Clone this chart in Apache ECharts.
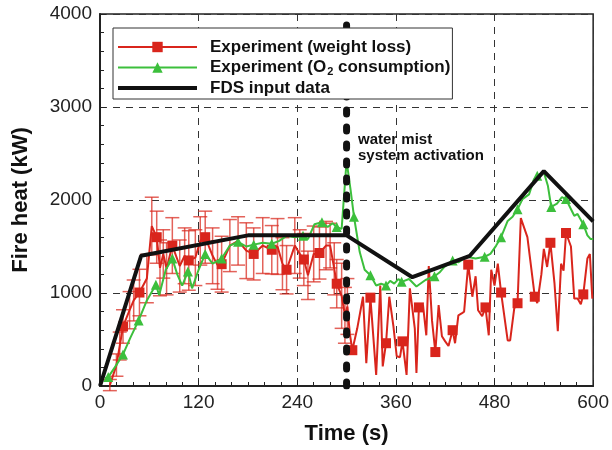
<!DOCTYPE html>
<html lang="en">

<head>
    <meta charset="UTF-8">
    <script type="text/javascript" src="https://cdn.jsdelivr.net/npm/echarts@6.0.0/dist/echarts.min.js"></script>
    <title>Fire heat</title>
    <style>
        html, body { margin: 0; padding: 0; background: #fff; }
        #chart { width: 612px; height: 450px; }
    </style>
</head>

<body>
    <div id="chart"></div>

    <script>
        // ---- data ----
        // weight loss experiment (red), time in s, heat in kW
        const redT = [12, 20, 24, 28, 36, 41, 48, 57, 63, 69, 73, 77, 81, 88, 97, 103, 108, 116, 122, 128, 137, 143, 148, 158, 168, 178, 187, 198, 209, 216, 222, 227, 237, 243, 248, 253, 260, 267, 275, 280, 285, 288, 294, 298, 301, 304, 307,
            313, 320, 324, 329, 336, 341, 344, 348, 352, 357, 361, 365, 368, 373, 377, 383, 385, 388, 393, 397, 400, 404, 408, 412, 416, 420, 424, 429, 432, 436, 440, 443, 448, 453, 457, 460, 465, 469, 473, 476, 480, 484, 488, 496, 499, 504, 508, 512, 520, 529, 532, 537, 540, 544, 548, 553, 557, 561, 564, 567, 573, 577, 581, 585, 588, 593, 596, 599];
        const redV = [10, 225, 430, 640, 815, 920, 1005, 1155, 1720, 1600, 1270, 1420, 1260, 1510, 1290, 1400, 1350, 1380, 1560, 1600, 1400, 1300, 1310, 1510, 1560, 1455, 1420, 1510, 1465, 1500, 1315, 1250, 1510, 1420, 1360, 1190, 1420, 1430, 1510, 1510, 1260, 1100, 970, 760, 855, 560, 385,
            620, 960, 245, 950, 120, 1080, 210, 460, 960, 640, 320, 310, 480, 120, 1050, 620, 140, 845, 870, 545, 1290, 700, 365, 870, 535, 480, 430, 600, 460, 760, 780, 800, 1305, 960, 1180, 815, 750, 845, 545, 1250, 1080, 1315, 1005, 490, 490, 835, 890, 1805, 1600, 960, 890, 1200, 1475, 1280, 1540, 1100, 590, 1315, 1240, 1645, 1500, 940, 940, 880, 985, 1370, 1420, 940];
        // times that carry a square marker
        const redMarks = [28, 48, 69, 88, 108, 128, 148, 187, 209, 227, 248, 267, 288, 307, 329, 348, 368, 388, 408, 429, 448, 469, 488, 508, 529, 548, 567, 588];
        // error bar half width (kW) for the first points, before activation
        const redErr = [60, 120, 150, 180, 200, 220, 250, 260, 310, 280, 300, 260, 280, 300, 280, 300, 320, 300, 260, 280, 300, 260, 300, 280, 260, 300, 280, 300, 260, 300, 280, 260, 300, 260, 280, 260, 300, 280, 260, 240, 280, 260, 350, 300, 300];

        // O2 consumption experiment (green)
        const greenT = [6, 10, 18, 28, 37, 47, 57, 68, 72, 80, 88, 94, 100, 107, 112, 120, 128, 137, 148, 158, 168, 178, 187, 198, 209, 218, 227, 237, 247, 253, 261, 270, 277, 283, 288, 294, 300, 305, 309, 316, 322, 329, 336, 342, 348, 353, 358, 363, 367, 376, 385, 396, 407, 413, 419, 429, 436, 446, 457, 468, 475, 482, 488, 496, 502, 508, 514, 522, 528, 532, 540, 545, 549, 556, 562, 567, 572, 577, 581, 588, 593, 597, 600];
        const greenV = [85, 96, 200, 340, 520, 705, 920, 1090, 975, 1250, 1370, 1200, 1080, 1230, 1050, 1250, 1420, 1315, 1370, 1510, 1550, 1500, 1520, 1540, 1530, 1560, 1615, 1600, 1615, 1580, 1740, 1760, 1710, 1750, 1710, 1690, 2420, 2100, 1820, 1440, 1250, 1190, 1080, 1100, 1080, 1130, 1100, 1150, 1120, 1150, 1070, 1140, 1180, 1220, 1280, 1350, 1330, 1390, 1370, 1390, 1420, 1510, 1600, 1775, 1820, 1900, 2010, 2060, 2220, 2260, 2300, 2150, 1925, 1960, 2030, 2010, 1920, 1830, 1850, 1740, 1620, 1580, 1580];
        const greenMarks = [10, 28, 47, 68, 88, 107, 128, 148, 168, 187, 209, 247, 270, 288, 309, 329, 348, 367, 407, 429, 468, 488, 508, 532, 549, 567, 588];

        // FDS input data (black)
        const fdsT = [0, 50, 180, 300, 380, 450, 540, 600];
        const fdsV = [0, 1400, 1620, 1620, 1170, 1400, 2310, 1770];

        // water mist activation
        const activationT = 300;
        const activationRange = [0, 3900];

        const xTicks = { min: 0, max: 600, step: 120 };
        const yTicks = { min: 0, max: 4000, step: 1000 };

        const RED = '#d9251c';
        const GREEN = '#3cbf3c';
        const BLACK = '#111';
        const FONT = 'Liberation Sans';

        function lineData(ts, vs, marks) {
            return ts.map((t, i) => marks.includes(t) ? [t, vs[i]] : { value: [t, vs[i]], symbol: 'none' });
        }
        const errData = redErr.map((e, i) => [redT[i], redV[i] - e, redV[i] + e]);

        const chart = echarts.init(document.getElementById('chart'));
        chart.setOption({
            animation: false,
            backgroundColor: '#fff',
            grid: {
                left: 100, right: 18, top: 14, bottom: 62,
                show: true, borderColor: '#222', borderWidth: 1.5
            },
            legend: {
                data: [
                    'Experiment (weight loss)',
                    'Experiment (O2 consumption)',
                    { name: 'FDS input data', icon: 'path://M0,0H80V4H0Z' }
                ],
                orient: 'vertical',
                left: 113, top: 28,
                zlevel: 1,
                padding: [9, 2, 1, 4],
                itemWidth: 79, itemHeight: 13, itemGap: 0.5,
                borderColor: '#333', borderWidth: 1,
                backgroundColor: '#fff',
                textStyle: {
                    fontFamily: FONT, fontSize: 17, fontWeight: 'bold', color: '#111',
                    lineHeight: 20,
                    padding: [0, 0, 0, 8],
                    rich: {
                        b: { fontFamily: FONT, fontSize: 17, fontWeight: 'bold', color: '#111', lineHeight: 20 },
                        s: { fontFamily: FONT, fontSize: 11, fontWeight: 'bold', color: '#111', padding: [9, 0, 0, 1] }
                    }
                },
                formatter: function (name) {
                    if (name === 'Experiment (O2 consumption)') {
                        return '{b|Experiment (O}{s|2}{b| consumption)}';
                    }
                    return name;
                }
            },
            xAxis: {
                type: 'value',
                min: xTicks.min, max: xTicks.max, interval: xTicks.step,
                name: 'Time (s)',
                nameLocation: 'middle', nameGap: 37,
                nameTextStyle: { fontFamily: FONT, fontSize: 22, fontWeight: 'bold', color: '#111' },
                axisLine: { lineStyle: { color: '#222', width: 2 } },
                axisTick: { inside: true, length: 6, lineStyle: { color: '#222' } },
                minorTick: { show: true, splitNumber: 6, length: 4, lineStyle: { color: '#222' } },
                axisLabel: { fontFamily: FONT, fontSize: 19, color: '#222', margin: 7, formatter: v => String(v) },
                splitLine: { show: true, lineStyle: { color: '#333', type: [7, 6], width: 1 } }
            },
            yAxis: {
                type: 'value',
                min: yTicks.min, max: yTicks.max, interval: yTicks.step,
                name: 'Fire heat (kW)',
                nameLocation: 'middle', nameGap: 68,
                nameTextStyle: { fontFamily: FONT, fontSize: 22, fontWeight: 'bold', color: '#111' },
                axisLine: { show: true, lineStyle: { color: '#222', width: 2 } },
                axisTick: { show: true, inside: true, length: 6, lineStyle: { color: '#222' } },
                minorTick: { show: true, splitNumber: 5, length: 4, lineStyle: { color: '#222' } },
                axisLabel: { fontFamily: FONT, fontSize: 19, color: '#222', margin: 8, formatter: v => String(v) },
                splitLine: { show: true, lineStyle: { color: '#333', type: [7, 6], width: 1 } }
            },
            graphic: [{
                type: 'text',
                left: 358, top: 132,
                style: {
                    text: 'water mist\nsystem activation',
                    font: 'bold 15px "Liberation Sans"',
                    fill: '#111',
                    lineHeight: 16
                },
                z: 100
            }],
            series: [{
                name: 'error bars',
                type: 'custom',
                data: errData,
                z: 1,
                renderItem: function (params, api) {
                    const x = api.value(0);
                    const lo = api.coord([x, api.value(1)]);
                    const hi = api.coord([x, api.value(2)]);
                    const w = 7;
                    const style = { stroke: 'rgba(218,45,35,0.75)', lineWidth: 1.5, fill: null };
                    return {
                        type: 'group',
                        children: [
                            { type: 'line', shape: { x1: lo[0], y1: lo[1], x2: hi[0], y2: hi[1] }, style: style },
                            { type: 'line', shape: { x1: lo[0] - w, y1: lo[1], x2: lo[0] + w, y2: lo[1] }, style: style },
                            { type: 'line', shape: { x1: hi[0] - w, y1: hi[1], x2: hi[0] + w, y2: hi[1] }, style: style }
                        ]
                    };
                }
            }, {
                name: 'Experiment (weight loss)',
                type: 'line',
                data: lineData(redT, redV, redMarks),
                symbol: 'rect', symbolSize: 10,
                showSymbol: true,
                color: RED,
                lineStyle: { color: RED, width: 2 },
                itemStyle: { color: RED },
                z: 2
            }, {
                name: 'Experiment (O2 consumption)',
                type: 'line',
                data: lineData(greenT, greenV, greenMarks),
                symbol: 'triangle', symbolSize: 10,
                showSymbol: true,
                color: GREEN,
                lineStyle: { color: GREEN, width: 2 },
                itemStyle: { color: GREEN },
                z: 3
            }, {
                name: 'FDS input data',
                type: 'line',
                data: fdsT.map((t, i) => [t, fdsV[i]]),
                symbol: 'none',
                color: BLACK,
                lineStyle: { color: BLACK, width: 4 },
                itemStyle: { color: BLACK },
                z: 4
            }, {
                name: 'activation',
                type: 'line',
                data: activationRange.map(v => [activationT, v]),
                symbol: 'none',
                lineStyle: { color: BLACK, width: 7, type: [4, 13], cap: 'round' },
                z: 5
            }]
        });
    </script>
</body>

</html>
